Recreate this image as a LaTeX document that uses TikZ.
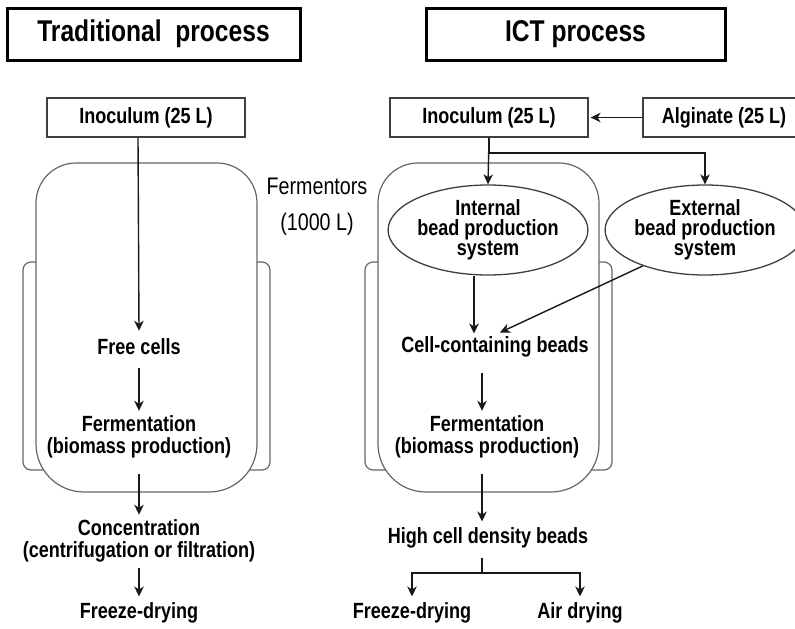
\documentclass[tikz,border=0pt]{standalone}
\usepackage{fontspec}
\setmainfont{Liberation Sans}[FakeStretch=0.82]
\usetikzlibrary{arrows.meta,shapes.geometric}

\tikzset{
  headbox/.style={draw=black, line width=3pt, minimum height=52pt, inner sep=0pt,
    font=\bfseries\fontsize{30}{32}\selectfont},
  stockbox/.style={draw=black!75, line width=1.3pt, minimum height=39pt, inner sep=0pt,
    font=\bfseries\fontsize{22}{23}\selectfont},
  stage/.style={align=center, inner sep=0pt, font=\bfseries\fontsize{22}{21.5}\selectfont},
  beadsys/.style={ellipse, draw=black!75, line width=1.3pt, inner sep=0pt, align=center,
    font=\bfseries\fontsize{22}{20}\selectfont},
  vessel/.style={draw=black!60, line width=1.2pt},
  flow/.style={draw=black!90, line width=1.4pt, -{Stealth[length=10pt,width=9.5pt,inset=3pt]}}
}

\begin{document}
\begin{tikzpicture}[x=1pt,y=-1pt]
\useasboundingbox (0,0) rectangle (795,629);

\node [headbox, minimum width=293pt] (tradhead) at (153.5,34) {Traditional\ \ process};
\node [headbox, minimum width=299pt] (icthead) at (575.5,34) {ICT process};

\draw [vessel, rounded corners=40pt] (36,330) -- (36,163) -- (257,163) -- (257,330);
\draw [vessel, rounded corners=48pt] (257,330) -- (257,492) -- (36,492) -- (36,330);
\draw [vessel, rounded corners=8pt] (36,262) -- (23,262) -- (23,470) -- (44,470);
\draw [vessel, rounded corners=8pt] (257,262) -- (270,262) -- (270,470) -- (249,470);

\draw [vessel, rounded corners=40pt] (378,330) -- (378,163) -- (599,163) -- (599,330);
\draw [vessel, rounded corners=48pt] (599,330) -- (599,492) -- (378,492) -- (378,330);
\draw [vessel, rounded corners=8pt] (378,262) -- (365,262) -- (365,470) -- (386,470);
\draw [vessel, rounded corners=8pt] (599,262) -- (612,262) -- (612,470) -- (591,470);

\node [font=\fontsize{24}{24}\selectfont] (fermlbl) at (317,186) {Fermentors};
\node [font=\fontsize{24}{24}\selectfont] (volume) at (317,224) {(1000 L)};

\node [stockbox, minimum width=198pt] (inocA) at (146,117.5) {Inoculum (25 L)};
\node [stage] (freeA) at (139,347) {Free cells};
\node [stage] (fermA) at (139,437) {Fermentation\\(biomass production)};
\node [stage] (concA) at (139,541) {Concentration\\(centrifugation or filtration)};
\node [stage] (dryA) at (139,613) {Freeze-drying};

\draw [flow] ([xshift=-8pt]inocA.south) -- ([yshift=8pt]freeA.north);
\draw [flow] ([yshift=-13pt]freeA.south) -- ([yshift=5pt]fermA.north);
\draw [flow] ([yshift=-16pt]fermA.south) -- ([yshift=5pt]concA.north);
\draw [flow] ([yshift=-6pt]concA.south) -- ([yshift=6pt]dryA.north);

\node [stockbox, minimum width=198pt] (inocB) at (489,117.5) {Inoculum (25 L)};
\node [stockbox, minimum width=162pt] (algB) at (724,117.5) {Alginate (25 L)};
\node [beadsys, minimum width=152pt, minimum height=90pt] (intB) at (488,230) {Internal\\bead production\\system};
\node [beadsys, minimum width=162pt, minimum height=90pt] (extB) at (705,230) {External\\bead production\\system};
\node [stage] (cellB) at (495,347) {Cell-containing beads};
\node [stage] (fermB) at (487,437) {Fermentation\\(biomass production)};
\node [stage] (dense) at (488,538) {High cell density beads};
\node [stage] (dryB) at (412,613) {Freeze-drying};
\node [stage] (airB) at (580,613) {Air drying};

\coordinate (split) at (489,153);
\coordinate (fork) at (482,573);

\draw [flow] (algB.west) -- ([xshift=2pt]inocB.east);
\draw [flow] (inocB.south) -- (intB.north);
\draw [flow] (inocB.south) -- (split) -| (extB.north);
\draw [flow] (intB.south -| 474,0) -- ([xshift=-21pt,yshift=3pt]cellB.north);
\draw [flow] (extB.210) -- ([xshift=5pt,yshift=4pt]cellB.north);
\draw [flow] ([xshift=-13pt,yshift=-15pt]cellB.south) -- ([xshift=-5pt,yshift=5pt]fermB.north);
\draw [flow] ([xshift=-5pt,yshift=-16pt]fermB.south) -- ([xshift=-6pt,yshift=6pt]dense.north);
\draw [line width=1.4pt, draw=black!90] ([xshift=-6pt,yshift=-9pt]dense.south) -- (fork);
\draw [flow] (fork) -| ([yshift=6pt]dryB.north);
\draw [flow] (fork) -| ([yshift=6pt]airB.north);
\end{tikzpicture}
\end{document}
